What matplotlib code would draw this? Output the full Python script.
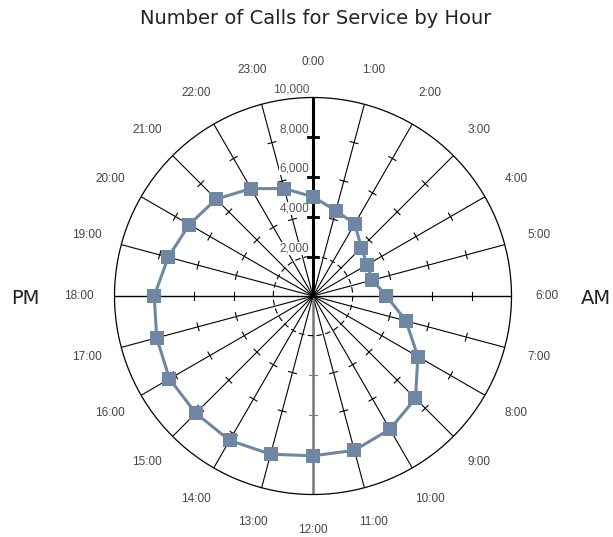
import matplotlib.pyplot as plt
import numpy as np

# calls for service per hour of day (0:00 .. 23:00)
hours = list(range(24))
hour_labels = ["%d:00" % h for h in hours]
calls = [5000, 4450, 4200, 3450, 3150, 3100, 3700, 4850, 6100, 7300, 7750, 8050,
         8050, 8250, 8400, 8350, 8350, 8150, 8000, 7550, 7200, 6900, 6250, 5600]
radial_ticks = [2000, 4000, 6000, 8000, 10000]
radial_labels = ["2,000", "4,000", "6,000", "8,000", "10,000"]
spoke_ticks = [4000, 6000, 8000]

small_font = "Liberation Sans"
line_color = "#6f87a3"
rmax = 10000
R_PX = 198.5  # outer radius in pixels

fig = plt.figure(figsize=(6.13, 5.37), dpi=100)
ax = fig.add_axes([(313 - R_PX) / 613, (537 - 296 - R_PX) / 537,
                   2 * R_PX / 613, 2 * R_PX / 537], projection="polar")
ax.set_theta_zero_location("N")
ax.set_theta_direction(-1)
ax.set_ylim(0, rmax)
ax.grid(False)
ax.set_xticks([])
ax.set_yticks([])
ax.spines["polar"].set_color("black")
ax.spines["polar"].set_linewidth(0.9)

theta = np.array(hours) / 24.0 * 2 * np.pi

# spokes
for h, t in zip(hours, theta):
    if h == 0:
        ax.plot([t, t], [0, rmax], color="black", lw=2.2, zorder=3)
    elif h == 12:
        ax.plot([t, t], [0, rmax], color="#777777", lw=1.8, zorder=2)
    elif h in (6, 18):
        ax.plot([t, t], [0, rmax], color="black", lw=1.0, zorder=2)
    else:
        ax.plot([t, t], [0, rmax], color="black", lw=0.8, zorder=2)

# small cross ticks on the spokes
for h, t in zip(hours, theta):
    if h == 0:
        continue
    col = "#777777" if h == 12 else "black"
    for r in spoke_ticks:
        d = 4.0 / (r / rmax * R_PX)
        ax.plot([t - d, t + d], [r, r], color=col, lw=0.8, zorder=2)

# major axis ticks and labels on the 0:00 spoke
for r, lab in zip(radial_ticks, radial_labels):
    if r < rmax:
        d = 5.0 / (r / rmax * R_PX)
        ax.plot([-d, d], [r, r], color="black", lw=2.0, zorder=3)
    ax.annotate(lab, xy=(0, r), xytext=(-4, 8), textcoords="offset pixels",
                ha="right", va="center", fontsize=8.5, family=small_font,
                color="#555555", zorder=4,
                bbox=dict(boxstyle="square,pad=0.05", fc="white", ec="none"))

# inner dashed circle
circ = np.linspace(0, 2 * np.pi, 200)
ax.plot(circ, np.full_like(circ, 2000), color="black", lw=0.8,
        ls=(0, (5, 3)), zorder=2)

# data line
t_closed = np.append(theta, theta[0])
c_closed = calls + [calls[0]]
ax.plot(t_closed, c_closed, color=line_color, lw=2.2, zorder=5)
ax.plot(theta, calls, ls="none", marker="s", ms=9.5, mew=0, color=line_color,
        zorder=6)

# hour labels around the dial
for t, lab in zip(theta, hour_labels):
    ax.text(t, 11800, lab, ha="center", va="center", fontsize=8.5,
            family=small_font, color="#444444", clip_on=False)

fig.text(316 / 613, 1 - 19 / 537, "Number of Calls for Service by Hour",
         ha="center", va="center", fontsize=14, color="#222222")
fig.text(25 / 613, 1 - 299 / 537, "PM", ha="center", va="center",
         fontsize=14, color="#222222")
fig.text(596 / 613, 1 - 298 / 537, "AM", ha="center", va="center",
         fontsize=14, color="#222222")

fig.savefig("out.png", dpi=100)
